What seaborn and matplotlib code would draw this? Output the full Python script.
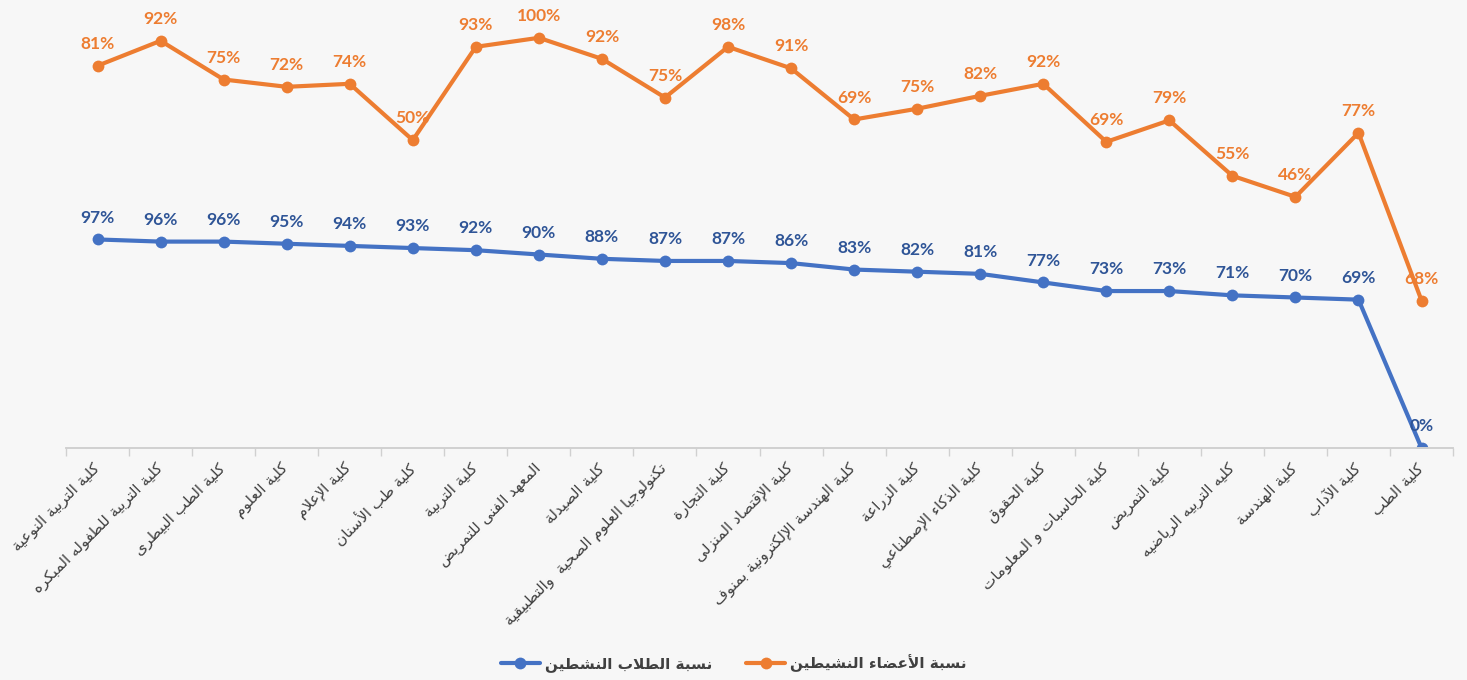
import numpy as np
import pandas as pd
import matplotlib
matplotlib.use("Agg")
import matplotlib.pyplot as plt
import seaborn as sns

# college names (left to right as shown on the chart)
colleges = [
    "كلية التربية النوعية",
    "كلية التربية للطفوله المبكره",
    "كلية الطب البيطرى",
    "كلية العلوم",
    "كلية الإعلام",
    "كلية طب الأسنان",
    "كلية التربية",
    "المعهد الفنى للتمريض",
    "كلية الصيدلة",
    "تكنولوجيا العلوم الصحية  والتطبيقية",
    "كلية التجارة",
    "كلية الإقتصاد المنزلى",
    "كلية الهندسة الإلكترونية بمنوف",
    "كلية الزراعة",
    "كلية الذكاء الإصطناعي",
    "كلية الحقوق",
    "كلية الحاسبات و المعلومات",
    "كلية التمريض",
    "كليه التربيه الرياضيه",
    "كلية الهندسة",
    "كلية الآداب",
    "كلية الطب",
]

# active students % (primary axis)
students = [97, 96, 96, 95, 94, 93, 92, 90, 88, 87, 87, 86, 83, 82, 81, 77, 73, 73, 71, 70, 69, 0]

# active staff: data labels as printed, and the point heights on the (hidden) secondary axis
staff_labels = [81, 92, 75, 72, 74, 50, 93, 100, 92, 75, 98, 91, 69, 75, 82, 92, 69, 79, 55, 46, 77, 68]
staff_pos = [88.9, 94.7, 85.7, 84.0, 84.7, 71.6, 93.3, 95.4, 90.5, 81.5, 93.3, 88.3,
             76.4, 78.9, 81.9, 84.7, 71.2, 76.2, 63.3, 58.4, 73.3, 34.3]

legend_students = "نسبة الطلاب النشطين"
legend_staff = "نسبة الأعضاء النشيطين"

BLUE = "#4472C4"
BLUE_TXT = "#2F5597"
ORANGE = "#ED7D31"
GREY_TXT = "#404040"


# --- minimal arabic shaping (matplotlib has no complex text layout) ---
dual = {'ئ': 0xFE89, 'ب': 0xFE8F, 'ت': 0xFE95, 'ث': 0xFE99, 'ج': 0xFE9D, 'ح': 0xFEA1,
        'خ': 0xFEA5, 'س': 0xFEB1, 'ش': 0xFEB5, 'ص': 0xFEB9, 'ض': 0xFEBD, 'ط': 0xFEC1,
        'ظ': 0xFEC5, 'ع': 0xFEC9, 'غ': 0xFECD, 'ف': 0xFED1, 'ق': 0xFED5, 'ك': 0xFED9,
        'ل': 0xFEDD, 'م': 0xFEE1, 'ن': 0xFEE5, 'ه': 0xFEE9, 'ي': 0xFEF1}
right = {'آ': 0xFE81, 'أ': 0xFE83, 'ؤ': 0xFE85, 'إ': 0xFE87, 'ا': 0xFE8D, 'ة': 0xFE93,
         'د': 0xFEA9, 'ذ': 0xFEAB, 'ر': 0xFEAD, 'ز': 0xFEAF, 'و': 0xFEED, 'ى': 0xFEEF}
lam_alef = {'آ': 0xFEF5, 'أ': 0xFEF7, 'إ': 0xFEF9, 'ا': 0xFEFB}


def shape(s):
    out = []
    i = 0
    n = len(s)
    while i < n:
        c = s[i]
        jp = i > 0 and s[i - 1] in dual
        if c == 'ل' and i + 1 < n and s[i + 1] in lam_alef:
            out.append(chr(lam_alef[s[i + 1]] + (1 if jp else 0)))
            i += 2
            continue
        nxt = s[i + 1] if i + 1 < n else ''
        if c in dual:
            jn = nxt in dual or nxt in right
            form = 3 if (jp and jn) else 2 if jn else 1 if jp else 0
            out.append(chr(dual[c] + form))
        elif c in right:
            out.append(chr(right[c] + (1 if jp else 0)))
        elif c == 'ء':
            out.append('\uFE80')
        else:
            out.append(c)
        i += 1
    return ''.join(reversed(out))


sns.set_theme(style="white")
plt.rcParams['font.family'] = ['DejaVu Sans']

df = pd.DataFrame({"pos": np.arange(len(colleges)), "students": students,
                   "staff": staff_pos, "staff_lab": staff_labels})

fig = plt.figure(figsize=(14.67, 6.8), dpi=100)
fig.patch.set_facecolor("#f7f7f7")
ax = fig.add_axes([0.045, 0.3412, 0.9455, 0.6323])
ax.patch.set_alpha(0)
ax2 = ax.twinx()

sns.lineplot(data=df, x="pos", y="students", ax=ax, color=BLUE, lw=3, marker="o",
             markersize=8.5, markeredgewidth=0, sort=False, label=shape(legend_students), legend=False)
sns.lineplot(data=df, x="pos", y="staff", ax=ax2, color=ORANGE, lw=3, marker="o",
             markersize=8.5, markeredgewidth=0, sort=False, label=shape(legend_staff), legend=False)

ax.set_ylim(0, 200)
ax2.set_ylim(0, 100)
ax.set_xlim(-0.5, len(colleges) - 0.5)

for i, v in enumerate(students):
    ax.annotate(f"{v}%", (i, v), xytext=(0, 10), textcoords="offset points", ha="center",
                va="bottom", color=BLUE_TXT, fontsize=12.5, fontweight="bold", family="Lato")
for i, (v, lab) in enumerate(zip(staff_pos, staff_labels)):
    ax2.annotate(f"{lab}%", (i, v), xytext=(0, 10), textcoords="offset points", ha="center",
                 va="bottom", color=ORANGE, fontsize=12.5, fontweight="bold", family="Lato")

ax.set_xticks(df["pos"])
ax.set_xticklabels([shape(c) for c in colleges], rotation=45, ha="right", va="center",
                   rotation_mode="anchor", fontsize=11, color=GREY_TXT)
ax.set_xticks(np.arange(-0.5, len(colleges)), minor=True)
ax.tick_params(axis="x", which="major", length=0, pad=13)
ax.tick_params(axis="x", which="minor", length=6, color="#d0d0d0", width=1, bottom=True)
ax.set_xlabel("")
ax.set_ylabel("")
ax2.set_ylabel("")
ax.set_yticks([])
ax2.set_yticks([])
for a in (ax, ax2):
    for s in ("top", "left", "right"):
        a.spines[s].set_visible(False)
    a.spines["bottom"].set_color("#d0d0d0")
    a.spines["bottom"].set_linewidth(1.2)

h1, l1 = ax.get_legend_handles_labels()
h2, l2 = ax2.get_legend_handles_labels()
fig.legend(h1 + h2, l1 + l2, loc="center", bbox_to_anchor=(0.5, 0.025), ncol=2,
           frameon=False, handlelength=2.6, handletextpad=0.3, columnspacing=2.2,
           prop={"family": "DejaVu Sans", "weight": "bold", "size": 11},
           labelcolor=GREY_TXT)

fig.savefig("out.png", dpi=100, facecolor=fig.get_facecolor())
